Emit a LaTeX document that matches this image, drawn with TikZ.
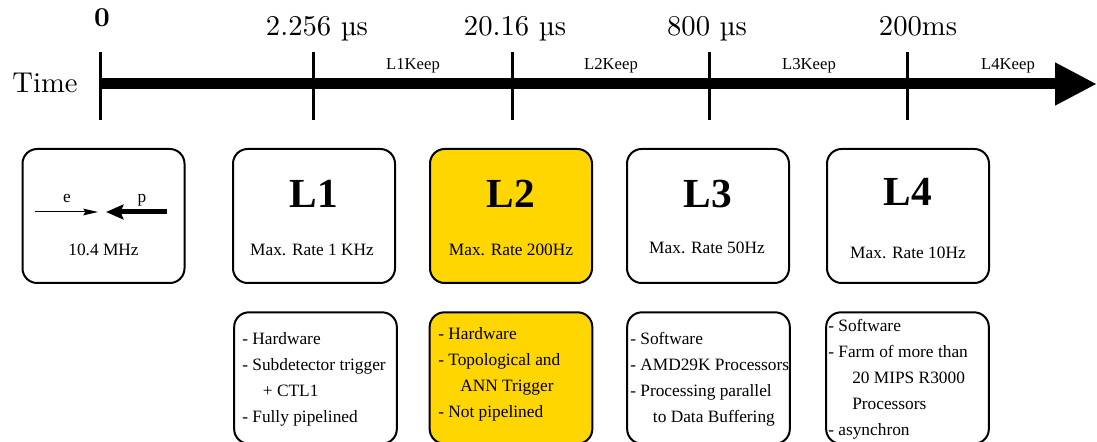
\documentclass[tikz,border=0pt]{standalone}
\usepackage{fontspec}
\newfontfamily\tms{Liberation Serif}
\newfontfamily\lmten{lmroman10-regular.otf}
\newfontfamily\lmtenb{lmroman10-bold.otf}
\usetikzlibrary{arrows.meta}
\definecolor{gold}{RGB}{255,214,0}
\begin{document}
\begin{tikzpicture}[x=0.75pt,y=-0.75pt,
  box/.style={draw, line width=1.5pt, rounded corners=11pt, minimum width=121.5pt, minimum height=100.5pt, inner sep=0pt},
  lowbox/.style={draw, line width=1.5pt, rounded corners=11pt, minimum width=122pt, minimum height=98.5pt, inner sep=0pt},
  tick/.style={line width=2.25pt},
  toplab/.style={font=\lmten\fontsize{21.5}{26}\selectfont, anchor=base, inner sep=0pt},
  keeplab/.style={font=\tms\fontsize{12.5}{15}\selectfont, anchor=base, inner sep=0pt},
  head/.style={font=\tms\bfseries\fontsize{31}{36}\selectfont, anchor=base, inner sep=0pt},
  rate/.style={font=\tms\fontsize{13}{15}\selectfont, anchor=base, inner sep=0pt},
  items/.style={font=\tms\fontsize{13}{19.5}\selectfont, align=left, anchor=north west, inner sep=0pt}]
\useasboundingbox (0,0) rectangle (1097,442);

% time axis
\coordinate (a0) at (100,84);
\coordinate (aend) at (1097,84);
\draw[line width=8.25pt, -{Triangle[length=31.5pt,width=30pt]}] (a0) -- (aend);
\foreach \x/\n in {100/t0,313/t1,512/t2,709/t3,907/t4}{
  \coordinate (\n top) at (\x,52);
  \coordinate (\n bot) at (\x,120);
  \draw[tick] (\n top) -- (\n bot);
}
\node[toplab] (time) at (45,93) {Time};
\node[toplab, font=\lmtenb\fontsize{20.5}{24}\selectfont] (l0) at (102,27) {0};
\node[toplab] (l1) at (317,36) {2.256 µs};
\node[toplab] (l2) at (515,36) {20.16 µs};
\node[toplab] (l3) at (707,36) {800 µs};
\node[toplab] (l4) at (918,36) {200ms};
\node[keeplab] (k1) at (413,70) {L1Keep};
\node[keeplab] (k2) at (611,70) {L2Keep};
\node[keeplab] (k3) at (809,70) {L3Keep};
\node[keeplab] (k4) at (1008,70) {L4Keep};

% upper boxes
\node[box] (b0) at (103.5,216) {};
\node[box] (b1) at (314,216) {};
\node[box, fill=gold] (b2) at (511,216) {};
\node[box] (b3) at (708,216) {};
\node[box] (b4) at (908,216) {};

\coordinate (es) at (35,212);
\coordinate (ee) at (98,212);
\coordinate (ps) at (167,212);
\coordinate (pe) at (106,212);
\draw[line width=0.75pt, -{Stealth[length=11pt,width=5pt,inset=1.5pt]}] (es) -- (ee);
\draw[line width=3.75pt, -{Stealth[length=13pt,width=11pt,inset=2pt]}] (ps) -- (pe);
\node[rate] (elab) at (67,203) {e};
\node[rate] (plab) at (142,203) {p};
\node[rate] (r0) at (103.5,256) {10.4 MHz};

\node[head] (h1) at (314,208) {L1};
\node[head] (h2) at (511,208) {L2};
\node[head] (h3) at (708,208) {L3};
\node[head] (h4) at (908,206) {L4};
\node[rate] (r1) at (312,256) {Max. Rate 1 KHz};
\node[rate] (r2) at (511,256) {Max. Rate 200Hz};
\node[rate] (r3) at (707,254) {Max. Rate 50Hz};
\node[rate] (r4) at (908,258) {Max. Rate 10Hz};

% lower boxes
\node[lowbox] (c1) at (315.5,378) {};
\node[lowbox, fill=gold] (c2) at (511,378) {};
\node[lowbox] (c3) at (708.5,378) {};
\node[lowbox] (c4) at (907.5,378) {};

\node[items] (i1) at (242,332) {- Hardware\\- Subdetector trigger\\\hspace*{15.5pt}+ CTL1\\- Fully pipelined};
\node[items] (i2) at (438,327) {- Hardware\\- Topological and\\\hspace*{16.5pt}ANN Trigger\\- Not pipelined};
\node[items] (i3) at (630,332) {- Software\\- AMD29K Processors\\- Processing parallel\\\hspace*{17pt}to Data Buffering};
\node[items] (i4) at (828,319) {- Software\\- Farm of more than\\\hspace*{18pt}20 MIPS R3000\\\hspace*{18pt}Processors\\- asynchron};
\end{tikzpicture}
\end{document}
